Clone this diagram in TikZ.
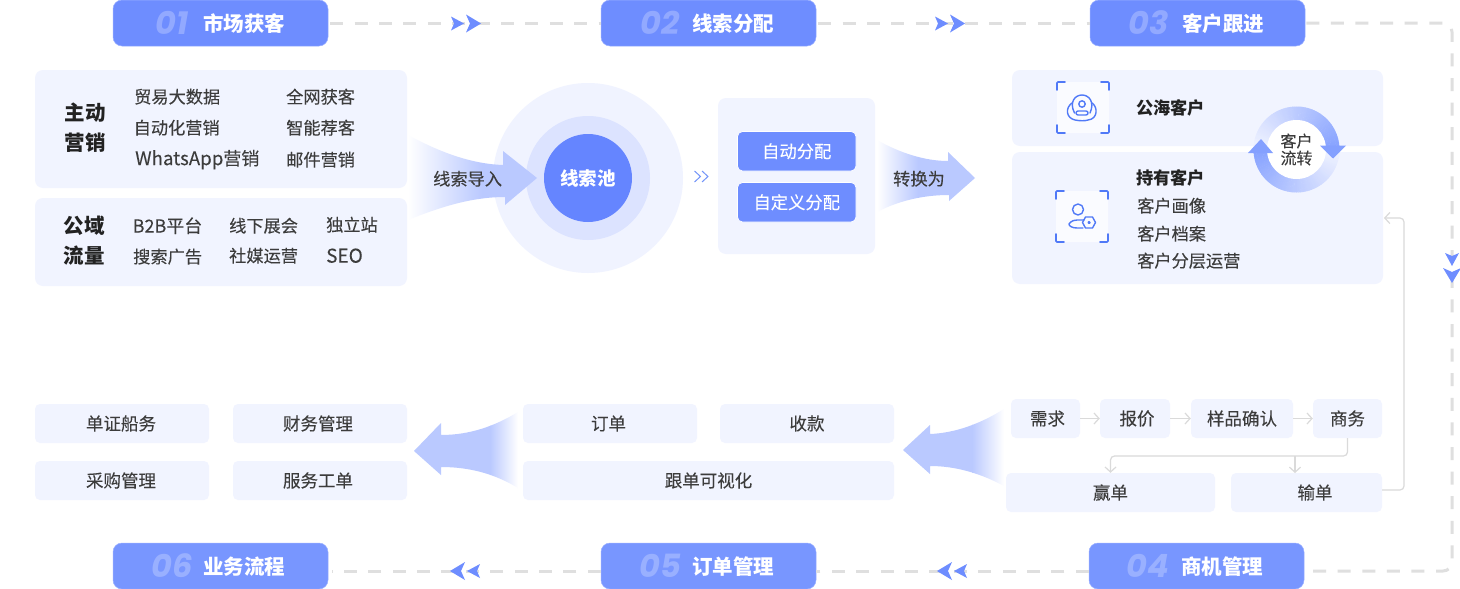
\documentclass[tikz,border=0pt]{standalone}
\usepackage{fontspec}
\setmainfont{Noto Sans CJK SC}[FakeBold=0.12,BoldFeatures={FakeBold=0}]
\newfontfamily\numfont{Poppins}
\usetikzlibrary{arrows.meta}
\definecolor{panelc}{HTML}{F1F4FF}
\definecolor{badgec}{HTML}{6E8DFF}
\definecolor{badged}{HTML}{7896FF}
\definecolor{arrowc}{HTML}{BAC9FF}
\definecolor{dashc}{HTML}{DFDFDF}
\definecolor{thinc}{HTML}{DADADA}
\definecolor{bodyc}{HTML}{3C3C3C}
\definecolor{boldc}{HTML}{222222}
\definecolor{iconc}{HTML}{5079F7}
\definecolor{ringe}{HTML}{84A0FF}
\definecolor{ringm}{HTML}{F0F3FF}
\definecolor{circa}{HTML}{F0F3FF}
\definecolor{circb}{HTML}{DCE3FF}
\definecolor{circc}{HTML}{6585FF}
\tikzset{
  x=1pt,y=-1pt,
  panel/.style={fill=panelc,rounded corners=8pt,draw=none,inner sep=0pt},
  cellbox/.style={fill=panelc,rounded corners=5pt,draw=none,inner sep=0pt,text=bodyc,font=\fontsize{17.5}{20}\selectfont},
  btn/.style={fill=badgec,draw=white,line width=0.7pt,rounded corners=5pt,inner sep=0pt,text=white,font=\fontsize{17.3}{20}\selectfont},
  badge/.style={inner sep=0pt,rounded corners=9pt,draw=badgec!70!white,line width=0.5pt,minimum width=215pt,minimum height=46pt},
  badgetxt/.style={inner sep=0pt,text=white,font=\fontsize{20.5}{24}\selectfont\bfseries},
  numtxt/.style={inner sep=0pt,text=white,text opacity=0.25,font=\numfont\fontsize{32}{36}\selectfont\bfseries\itshape},
  txtbody/.style={inner sep=0pt,anchor=west,yshift=-0.7pt,text=bodyc,font=\fontsize{17.2}{20}\selectfont},
  txtbold/.style={inner sep=0pt,anchor=west,yshift=-0.7pt,text=boldc,font=\fontsize{17.2}{20}\selectfont\bfseries},
  txthead/.style={inner sep=0pt,align=center,text=boldc,font=\fontsize{20.5}{30}\selectfont\bfseries},
  flowline/.style={draw=dashc,line width=3pt,dash pattern=on 13pt off 11.4pt},
  thinline/.style={draw=thinc,line width=1.2pt,rounded corners=4pt},
  thinarrow/.style={thinline,-{Straight Barb[length=5pt,width=11pt,line width=1.2pt]}},
  dblarrow/.style={fill=badgec,draw=none},
  iconline/.style={draw=iconc,line width=1.4pt,line cap=round,line join=round},
  bracket/.style={draw=iconc,line width=1.6pt,line cap=round,rounded corners=1pt},
}
\newcommand{\cellnode}[7][cellbox]{%
  \pgfmathsetmacro\cxv{(#3+#5)/2}\pgfmathsetmacro\cyv{(#4+#6)/2}%
  \pgfmathsetmacro\wv{#5-#3}\pgfmathsetmacro\hv{#6-#4}%
  \node[#1,minimum width=\wv pt,minimum height=\hv pt] (#2) at (\cxv,\cyv) {#7};}
% name, centre x, centre y, numeral, title, fill, title offset
\newcommand{\badgenode}[7]{%
  \node[badge,fill=#6] (#1) at (#2,#3) {};
  \node[numtxt] (#1num) at ([xshift=-48.5pt]#1.center) {#4};
  \node[badgetxt] (#1txt) at ([xshift=#7pt,yshift=-0.5pt]#1.center) {#5};}
\newcommand{\twoheads}[3]{%
  \begin{scope}[shift={(#1,#2)},rotate=#3]
    \fill[dblarrow] (0,-7) -- (13,0) -- (0,7) -- (3,0) -- cycle;
    \fill[dblarrow] (15,-9) -- (30,0) -- (15,9) -- (19,0) -- cycle;
  \end{scope}}
\newcommand{\iconframe}[2]{%
  \begin{scope}[shift={(#1,#2)}]
    \fill[white!65!panelc,rounded corners=2pt] (0,0) rectangle (52,51);
    \draw[bracket] (0,8) -- (0,0) -- (8,0);
    \draw[bracket] (44,0) -- (52,0) -- (52,8);
    \draw[bracket] (0,43) -- (0,51) -- (8,51);
    \draw[bracket] (44,51) -- (52,51) -- (52,43);
  \end{scope}}
\begin{document}
\begin{tikzpicture}
\useasboundingbox[fill=white] (0,0) rectangle (1460,589);

% badges
\badgenode{ba}{220.5}{23}{01}{市场获客}{badgec}{23.5}
\badgenode{bb}{708.5}{23}{02}{线索分配}{badgec}{24.5}
\badgenode{bc}{1197.5}{23}{03}{客户跟进}{badgec}{25.5}
\badgenode{bd}{1196.5}{566}{04}{商机管理}{badged}{25.5}
\badgenode{be}{708.5}{566}{05}{订单管理}{badged}{24.5}
\badgenode{bf}{220.5}{566}{06}{业务流程}{badged}{23.5}

% flow lines
\coordinate (corner1) at (1452,23);
\coordinate (corner2) at (1452,571);
\draw[flowline] ([xshift=2pt]ba.east) -- (bb.west);
\draw[flowline] ([xshift=2pt]bb.east) -- (bc.west);
\draw[flowline,dash pattern=on 13pt off 11.6pt,rounded corners=9pt] ([xshift=1pt]bc.east) -- (corner1) -- (corner2) -- ([xshift=4pt,yshift=-5pt]bd.east);
\draw[flowline] ([yshift=-5pt]bd.west) -- ([yshift=-5pt]be.east);
\draw[flowline] ([yshift=-5pt]be.west) -- ([xshift=4pt,yshift=-5pt]bf.east);
\twoheads{451}{23.5}{0}
\twoheads{935}{23.5}{0}
\twoheads{1452}{253}{-90}
\twoheads{967}{571}{180}
\twoheads{480}{571}{180}

% left panels
\cellnode[panel]{pa}{35}{70}{407}{188}{}
\cellnode[panel]{pb}{35}{198}{407}{286}{}
\node[txthead] (ha) at (85,128) {主动\\营销};
\node[txthead] (hb) at (84,241) {公域\\流量};
\node[txtbody] (a1) at (134,96) {贸易大数据};
\node[txtbody] (a2) at (133.5,127) {自动化营销};
\node[txtbody] (a3) at (135,159) {{\fontsize{18.7}{20}\selectfont WhatsApp}{\fontsize{18}{20}\selectfont 营销}};
\node[txtbody] (a4) at (286,96) {全网获客};
\node[txtbody] (a5) at (286,127) {智能荐客};
\node[txtbody] (a6) at (286,159) {邮件营销};
\node[txtbody] (b1) at (132.5,225) {{\fontsize{18}{20}\selectfont B2B平台}};
\node[txtbody] (b2) at (133,256) {搜索广告};
\node[txtbody] (b3) at (229,225) {线下展会};
\node[txtbody] (b4) at (229,255) {社媒运营};
\node[txtbody] (b5) at (326,224) {独立站};
\node[txtbody] (b6) at (326,255) {{\fontsize{19}{20}\selectfont SEO}};

% pool
\fill[circa] (588,178) circle[radius=95];
\fill[circb] (588,178) circle[radius=62];
\node[circle,fill=circc,minimum size=88pt,inner sep=0pt,text=white,font=\fontsize{18.5}{20}\selectfont\bfseries] (pool) at (588,178) {线索池};

% arrow: lead import
\begin{scope}
  \clip (408,135) .. controls (445,155) and (475,164) .. (503,165) -- (503,151) -- (537,178) -- (505,205) -- (505,197) .. controls (475,197) and (445,205) .. (408,220) -- cycle;
  \shade[left color=white,right color=arrowc] (408,130) rectangle (482,225);
  \fill[arrowc] (481.5,130) rectangle (540,225);
\end{scope}
\node[txtbody] (import) at (433,178) {线索导入};

% chevrons
\draw[iconc!80!white,line width=1pt] (694.5,171) -- (700.5,176.5) -- (694.5,182);
\draw[iconc!80!white,line width=1pt] (702,171) -- (708,176.5) -- (702,182);

% assign
\cellnode[panel]{pc}{718}{98}{875}{254}{}
\cellnode[btn]{auto}{737.5}{131.5}{856}{171}{自动分配}
\cellnode[btn]{custom}{737.5}{182.5}{856}{222}{自定义分配}

% arrow: convert
\begin{scope}
  \clip (877,140) .. controls (900,153) and (925,161) .. (948,161) -- (948,152) -- (975,178) -- (949,201) -- (949,195) .. controls (925,195) and (900,200) .. (877,212) -- cycle;
  \shade[left color=white,right color=arrowc] (877,130) rectangle (918,220);
  \fill[arrowc] (917.5,130) rectangle (980,220);
\end{scope}
\node[txtbody] (convert) at (893,178) {转换为};

% customers
\cellnode[panel]{pd}{1012}{70}{1383}{146}{}
\cellnode[panel]{pe}{1012}{152}{1383}{284}{}
\iconframe{1057}{82}
\iconframe{1056}{191}
% icon one
\draw[iconline] (1074.5,113) .. controls (1069,102) and (1075,95) .. (1082,95) .. controls (1089,95) and (1095,102) .. (1090,113);
\draw[iconline] (1072,103) .. controls (1065,108) and (1066,118) .. (1075,120) .. controls (1080,121) and (1085,121) .. (1088,120) .. controls (1098,119) and (1098,107) .. (1092,103);
\draw[iconline] (1082,104) circle[radius=3.2];
\draw[iconline,rounded corners=2pt] (1076,115) -- (1076,111) -- (1088,111) -- (1088,115) -- cycle;
% icon two
\draw[iconline] (1078,209.5) circle[radius=5.5];
\draw[iconline] (1084,220) -- (1077,220) .. controls (1071,220) and (1069,224) .. (1069,224) .. controls (1069,226) and (1072,228) .. (1077,228) -- (1083,228);
\draw[iconline] (1082.5,222.5) -- (1085.5,217) -- (1092.5,217) -- (1095.5,222.5) -- (1092.5,228) -- (1085.5,228) -- cycle;
\draw[iconline] (1089,222.5) circle[radius=1];
\node[txtbold] (c1) at (1136,107) {公海客户};
\node[txtbold] (c2) at (1136,177) {持有客户};
\node[txtbody] (c3) at (1137,205) {客户画像};
\node[txtbody] (c4) at (1137,233) {客户档案};
\node[txtbody] (c5) at (1137,260) {客户分层运营};

% ring
\foreach \a in {0,3,...,180}{
  \pgfmathsetmacro\aa{\a+3.6}
  \pgfmathtruncatemacro\p{min(100,\a/180*100)}
  % upper half: light at the left, strong at the right
  \fill[ringe!\p!ringm] ({1296.5+43*cos(180-\a)},{149.5-43*sin(180-\a)}) -- ({1296.5+43*cos(180-\aa)},{149.5-43*sin(180-\aa)}) -- ({1296.5+29*cos(180-\aa)},{149.5-29*sin(180-\aa)}) -- ({1296.5+29*cos(180-\a)},{149.5-29*sin(180-\a)}) -- cycle;
  % lower half: light at the right, strong at the left
  \fill[ringe!\p!ringm] ({1296.5+43*cos(\a)},{149.5+43*sin(\a)}) -- ({1296.5+43*cos(\aa)},{149.5+43*sin(\aa)}) -- ({1296.5+29*cos(\aa)},{149.5+29*sin(\aa)}) -- ({1296.5+29*cos(\a)},{149.5+29*sin(\a)}) -- cycle;
}
\node[circle,fill=white,minimum size=59pt,inner sep=0pt,align=center,text=bodyc,font=\fontsize{16}{17}\selectfont] (ring) at (1296.5,149.5) {客户\\流转};
\fill[ringe] (1320,145.7) -- (1346,145.7) -- (1333,158.5) -- cycle;
\fill[ringe] (1248,153) -- (1273,153) -- (1261,139) -- cycle;

% opportunity
\cellnode{need}{1011}{399}{1080}{438}{\kern4pt 需求}
\cellnode{quote}{1100}{399}{1170}{438}{\kern4pt 报价}
\cellnode{sample}{1191}{399}{1293}{438}{样品确认}
\cellnode{deal}{1313}{399}{1382}{438}{商务}
\cellnode{win}{1006}{473}{1215}{512}{赢单}
\cellnode{lose}{1231}{473}{1382}{512}{\kern17pt 输单}
\draw[thinarrow] (need) -- (quote);
\draw[thinarrow] (quote) -- (sample);
\draw[thinarrow] (sample) -- (deal);
\coordinate (split) at (1295,456);
\coordinate (loseTop) at (1295,473);
\draw[thinarrow] (deal.south) |- (split) -| (win.north);
\draw[thinarrow] (split) -- (loseTop);
\coordinate (backA) at (1404,490);
\coordinate (backB) at (1404,218);
\coordinate (backC) at (1384,218);
\draw[thinarrow] (lose.east |- backA) -- (backA) -- (backB) -- (backC);

% arrow: to orders
\begin{scope}
  \clip (1004,409) .. controls (980,424) and (955,433) .. (930,434) -- (930,425) -- (903,450) -- (930,474) -- (930,466) .. controls (955,466) and (980,473) .. (1004,486) -- cycle;
  \shade[left color=arrowc,right color=white] (972,400) rectangle (1004,490);
  \fill[arrowc] (900,400) rectangle (972.5,490);
\end{scope}

% orders
\cellnode{order}{523}{404}{697}{443}{订单\kern3pt}
\cellnode{pay}{720}{404}{894}{443}{收款}
\cellnode{track}{523}{461}{894}{500}{跟单可视化}

% arrow: to business
\begin{scope}
  \clip (518,412) .. controls (495,426) and (470,435) .. (441,435) -- (441,423) -- (414,451) -- (441,475) -- (441,467) .. controls (470,467) and (495,474) .. (518,488) -- cycle;
  \shade[left color=arrowc,right color=white] (490,400) rectangle (518,495);
  \fill[arrowc] (410,400) rectangle (490.5,495);
\end{scope}

% business
\cellnode{doc}{35}{404}{209}{443}{单证船务\kern2pt}
\cellnode{fin}{233}{404}{407}{443}{财务管理\kern4pt}
\cellnode{buy}{35}{461}{209}{500}{采购管理\kern2pt}
\cellnode{svc}{233}{461}{407}{500}{服务工单\kern4pt}
\end{tikzpicture}
\end{document}
